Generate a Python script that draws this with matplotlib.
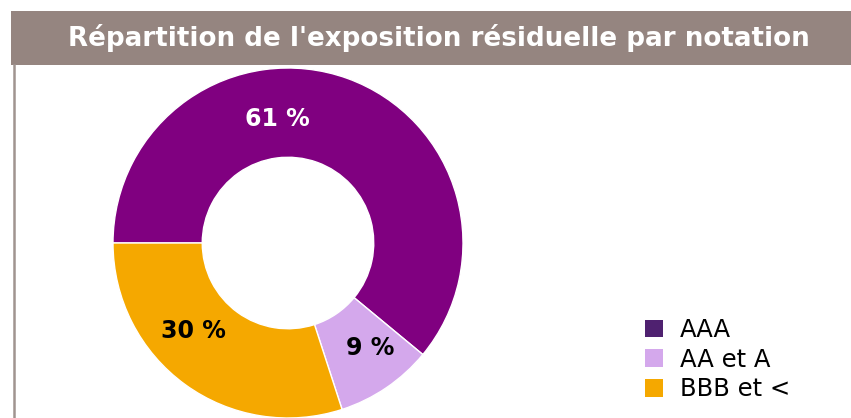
import matplotlib
matplotlib.use("Agg")
import matplotlib.pyplot as plt
from matplotlib.patches import Rectangle, Patch
from matplotlib.lines import Line2D

TITLE = "Répartition de l'exposition résiduelle par notation"
CATEGORIES = ["AAA", "AA et A", "BBB et <"]
SHARES = [61, 9, 30]
PIE_COLORS = ["#800080", "#d4a8ec", "#f5a800"]
LEGEND_COLORS = ["#4f2170", "#d4a8ec", "#f5a800"]
LABEL_COLORS = ["white", "black", "black"]

W, H = 851, 418
fig = plt.figure(figsize=(W / 100, H / 100), dpi=100)

# title bar + left frame line
fig.patches.append(Rectangle((11 / W, 1 - 65 / H), 1, 54 / H, transform=fig.transFigure,
                             facecolor="#958580", edgecolor="none", zorder=0))
fig.lines.append(Line2D([14 / W, 14 / W], [0, 1 - 65 / H], transform=fig.transFigure,
                        color="#a09490", lw=1.8))
fig.text(439 / W, 1 - 38 / H, TITLE, ha="center", va="center", color="white",
         fontsize=18.8, fontweight="bold", family="DejaVu Sans")

cx, cy, r = 288, 243, 175
ax = fig.add_axes([(cx - r) / W, (H - cy - r) / H, 2 * r / W, 2 * r / H])
wedges, texts, autotexts = ax.pie(
    SHARES, colors=PIE_COLORS, startangle=180, counterclock=False, radius=1,
    autopct=lambda p: f"{p:.0f} %", pctdistance=0.75,
    wedgeprops=dict(width=0.51, edgecolor="white", linewidth=1))
# nudge labels to where the original puts them
label_pos = [(-0.06, 0.71), (0.47, -0.60), (-0.54, -0.50)]
for t, c, pos in zip(autotexts, LABEL_COLORS, label_pos):
    t.set_color(c)
    t.set_fontsize(17)
    t.set_fontweight("bold")
    t.set_position(pos)
ax.set_xlim(-1, 1)
ax.set_ylim(-1, 1)
ax.set_aspect("equal")
ax.axis("off")

handles = [Patch(facecolor=c, edgecolor="none") for c in LEGEND_COLORS]
fig.legend(handles, CATEGORIES, loc="upper left", bbox_to_anchor=(645 / W, 1 - 318 / H),
           frameon=False, fontsize=17.5, handlelength=0.75, handleheight=0.75,
           handletextpad=0.7, labelspacing=0.23, borderpad=0, borderaxespad=0)

fig.savefig("out.png", dpi=100)
